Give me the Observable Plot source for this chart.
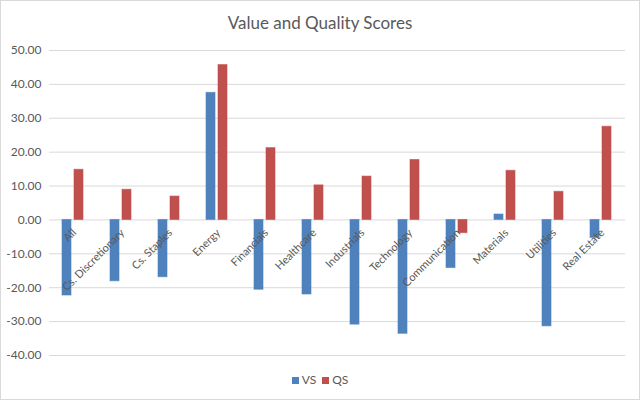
<!DOCTYPE html>
<html>
<head>
<meta charset="utf-8">
<script src="https://cdn.jsdelivr.net/npm/d3@7"></script>
<script src="https://cdn.jsdelivr.net/npm/@observablehq/plot@0.6"></script>
<style>
  html, body { margin: 0; padding: 0; background: #fff; }
  #wrap { position: relative; width: 640px; height: 400px; overflow: hidden; font-family: Lato, "Open Sans", sans-serif; color: #595959; }
  #border { position: absolute; left: 0; top: 0; width: 640px; height: 400px; box-sizing: border-box; border: 1px solid #d9d9d9; pointer-events: none; }
  #title { position: absolute; left: 0; top: 12px; width: 640px; text-align: center; font-size: 17px; }
  #chart { position: absolute; left: 0; top: 40px; }
  #legend { position: absolute; left: 0; top: 372px; width: 640px; text-align: center; font-size: 12px; }
  .sw { display: inline-block; width: 7px; height: 7px; margin-right: 3px; vertical-align: 0px; }
  .item { margin: 0 3px; }
</style>
</head>
<body>
<div id="wrap">
  <div id="title">Value and Quality Scores</div>
  <div id="chart"></div>
  <div id="legend"></div>
  <div id="border"></div>
</div>
<script>
const categories = ["All","Cs. Discretionary","Cs. Staples","Energy","Financials","Healthcare","Industrials","Technology","Communication","Materials","Utilities","Real Estate"];
const seriesNames = ["VS","QS"];
const vsValues = [-22.3,-18.1,-16.9,37.5,-20.6,-22.0,-30.9,-33.6,-14.2,1.6,-31.4,-5.3];
const qsValues = [14.8,8.9,6.9,45.7,21.2,10.2,12.8,17.7,-3.9,14.5,8.3,27.5];
const yTicks = [-40,-30,-20,-10,0,10,20,30,40,50];
const colors = ["#4f81bd","#c0504d"];

const rows = [];
categories.forEach((c, i) => {
  rows.push({cat: c, series: "VS", value: vsValues[i]});
  rows.push({cat: c, series: "QS", value: qsValues[i]});
});

const chart = Plot.plot({
  width: 640,
  height: 330,
  marginLeft: 48,
  marginRight: 14,
  marginTop: 10,
  marginBottom: 15,
  style: {fontFamily: "Lato, 'Open Sans', sans-serif", fontSize: "12px", color: "#595959", background: "transparent"},
  fx: {domain: categories, padding: 0, axis: null, label: null},
  x: {domain: seriesNames, paddingInner: 0.23, paddingOuter: 0.97, axis: null},
  y: {domain: [-40, 50], ticks: yTicks, tickSize: 0, tickPadding: 8, tickFormat: d => d.toFixed(2), label: null},
  color: {domain: seriesNames, range: colors},
  marks: [
    Plot.ruleY(yTicks, {stroke: "#d9d9d9", strokeWidth: 1}),
    Plot.barY(rows, {fx: "cat", x: "series", y: "value", fill: "series", stroke: "series", strokeOpacity: 0.6}),
    Plot.text(categories, {fx: d => d, y: () => 0, text: d => d, rotate: -45, textAnchor: "end", dx: 1, dy: 11, fill: "#595959", fontSize: 11})
  ]
});
document.getElementById("chart").appendChild(chart);

const legend = document.getElementById("legend");
seriesNames.forEach((s, i) => {
  const span = document.createElement("span");
  span.className = "item";
  span.innerHTML = `<span class="sw" style="background:${colors[i]}"></span>${s}`;
  legend.appendChild(span);
});
</script>
</body>
</html>
